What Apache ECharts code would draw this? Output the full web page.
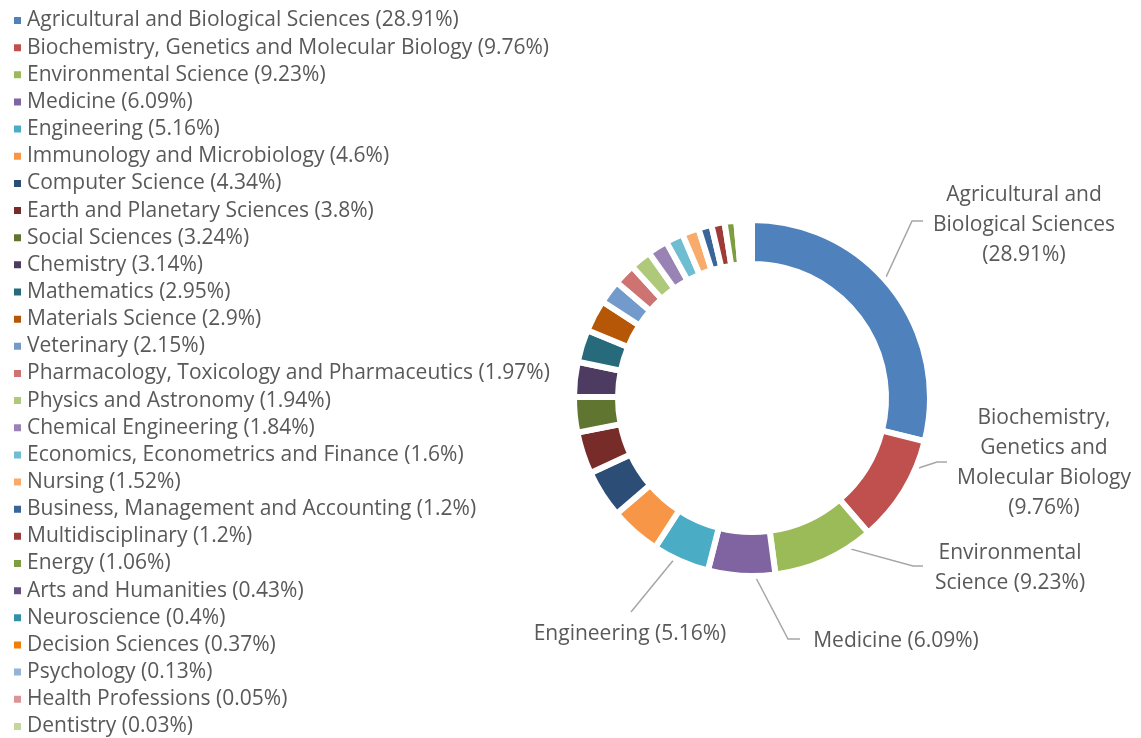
<!DOCTYPE html>
<html>
<head>
<meta charset="utf-8">
<script src="https://cdn.jsdelivr.net/npm/echarts@6/dist/echarts.min.js"></script>
<style>
  html, body { margin: 0; padding: 0; background: #fff; }
  #main { width: 1141px; height: 738px; }
</style>
</head>
<body>
<div id="main"></div>
<script>
var categories = [
  'Agricultural and Biological Sciences',
  'Biochemistry, Genetics and Molecular Biology',
  'Environmental Science',
  'Medicine',
  'Engineering',
  'Immunology and Microbiology',
  'Computer Science',
  'Earth and Planetary Sciences',
  'Social Sciences',
  'Chemistry',
  'Mathematics',
  'Materials Science',
  'Veterinary',
  'Pharmacology, Toxicology and Pharmaceutics',
  'Physics and Astronomy',
  'Chemical Engineering',
  'Economics, Econometrics and Finance',
  'Nursing',
  'Business, Management and Accounting',
  'Multidisciplinary',
  'Energy',
  'Arts and Humanities',
  'Neuroscience',
  'Decision Sciences',
  'Psychology',
  'Health Professions',
  'Dentistry'
];
var shares = [28.91, 9.76, 9.23, 6.09, 5.16, 4.6, 4.34, 3.8, 3.24, 3.14, 2.95, 2.9, 2.15,
  1.97, 1.94, 1.84, 1.6, 1.52, 1.2, 1.2, 1.06, 0.43, 0.4, 0.37, 0.13, 0.05, 0.03];
// slice label text (only the five biggest get one)
var labelText = [
  'Agricultural and\nBiological Sciences\n(28.91%)',
  'Biochemistry,\nGenetics and\nMolecular Biology\n(9.76%)',
  'Environmental\nScience (9.23%)',
  'Medicine (6.09%)',
  'Engineering (5.16%)'
];

var colors = ['#4F81BD', '#C0504D', '#9BBB59', '#8064A2', '#4BACC6', '#F79646',
  '#2C4D75', '#772C2A', '#5F7530', '#4D3B62', '#276A7C', '#B65708',
  '#729ACA', '#CD7371', '#AFC97A', '#9983B5', '#6FBDD1', '#F9AB6B',
  '#3A6599', '#9E3B38', '#7E9C40', '#664F82', '#3490A8', '#F07F09',
  '#95B3D7', '#D99694', '#C3D69B'];

var cx = 752, cy = 398, rMid = 155;
var fontFamily = '"Open Sans", sans-serif';
var textColor = '#595959';

// where each label sits and where its leader bends
var labelPlace = [
  {x: 1024, y: 225, elbow: [912, 221], end: [923, 221]},
  {x: 1044, y: 463, elbow: [937, 462], end: [947, 462]},
  {x: 1010, y: 568, elbow: [913, 566], end: [923, 566]},
  {x: 896, y: 641, elbow: [788, 639], end: [800, 639]},
  {x: 630, y: 634, elbow: [631, 612], end: [631, 612]}
];

function total(){
  var s = 0;
  for (var i = 0; i < shares.length; i++) s += shares[i];
  return s;
}

function midPoint(index){
  var sum = total(), before = 0;
  for (var i = 0; i < index; i++) before += shares[i];
  var ang = (before + shares[index] / 2) / sum * 2 * Math.PI;
  return [cx + rMid * Math.sin(ang), cy - rMid * Math.cos(ang)];
}

var pieData = categories.map(function(name, i){
  var item = {name: name, value: shares[i], itemStyle: {color: colors[i]}};
  if (i >= labelText.length) {
    item.label = {show: false};
    item.labelLine = {show: false};
  }
  return item;
});

var chart = echarts.init(document.getElementById('main'));
chart.setOption({
  animation: false,
  legend: {
    orient: 'vertical',
    left: 12,
    top: 10,
    padding: 0,
    itemWidth: 9,
    itemHeight: 9,
    itemGap: 6.15,
    icon: 'rect',
    selectedMode: false,
    textStyle: {fontFamily: fontFamily, fontSize: 21, color: textColor, lineHeight: 21},
    formatter: function(name){
      return name + ' (' + shares[categories.indexOf(name)] + '%)';
    },
    data: categories
  },
  series: [{
    type: 'pie',
    center: [cx, cy],
    radius: [134, 178],
    startAngle: 90,
    clockwise: true,
    avoidLabelOverlap: false,
    itemStyle: {borderColor: '#fff', borderWidth: 6},
    emphasis: {disabled: true},
    label: {
      show: true,
      fontFamily: fontFamily,
      fontSize: 21,
      color: textColor,
      lineHeight: 30,
      align: 'center',
      formatter: function(p){ return labelText[p.dataIndex] || ''; }
    },
    labelLine: {show: true, lineStyle: {color: '#A6A6A6', width: 1.5}},
    labelLayout: function(p){
      var place = labelPlace[p.dataIndex];
      if (!place) return {};
      return {
        x: place.x,
        y: place.y,
        align: 'center',
        verticalAlign: 'middle',
        labelLinePoints: [midPoint(p.dataIndex), place.elbow, place.end]
      };
    },
    data: pieData
  }]
});
</script>
</body>
</html>
